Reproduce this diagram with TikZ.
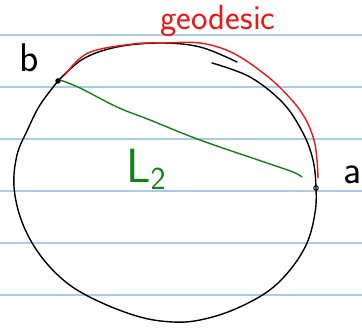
\documentclass[tikz,border=0pt]{standalone}
\usetikzlibrary{calc}
\definecolor{ruled}{RGB}{170,204,228}
\definecolor{geored}{RGB}{240,20,20}
\definecolor{chordgreen}{RGB}{20,130,20}
\tikzset{
  ruleline/.style={draw=ruled, line width=1.4pt},
  ink/.style={draw=black, line width=1.4pt, line cap=round, line join=round},
  redink/.style={draw=geored, line width=1.4pt, line cap=round, line join=round},
  greenink/.style={draw=chordgreen, line width=1.4pt, line cap=round, line join=round},
  lbl/.style={inner sep=0pt, anchor=base, font=\sffamily\fontsize{40}{44}\selectfont},
  dotnode/.style={circle, fill=black, inner sep=0pt, minimum size=5.5pt},
  ringnode/.style={circle, draw=black, line width=1pt, inner sep=0pt, minimum size=4.5pt},
}
\begin{document}
\begin{tikzpicture}[x=1pt, y=-1pt]
\useasboundingbox (0,0) rectangle (362,328);
\fill[white] (0,0) rectangle (362,328);
% ruled paper lines
\foreach \yy/\nm in {35/r1,87/r2,139/r3,191/r4,243/r5,295/r6} {
  \coordinate (\nm L) at (0,\yy);
  \coordinate (\nm R) at (362,\yy);
  \draw[ruleline] (\nm L) -- (\nm R);
}
% points
\coordinate (bpt) at (58,81);
\coordinate (apt) at (316,188);
% circle, first stroke (top arc)
\draw[ink] plot[smooth, tension=0.6] coordinates {(58,81) (83,59) (117,47) (160,43) (200,47) (237,62)};
% circle, main stroke
\draw[ink] plot[smooth, tension=0.6] coordinates {(212,63) (250,77) (283,103) (303,133) (313,160) (316,188) (315,213) (307,243) (290,270) (267,292) (233,310) (200,320) (173,322) (140,317) (100,302) (67,283) (40,255) (22,222) (14,187) (17,155) (27,131) (40,105) (58,81)};
% geodesic (red)
\draw[redink] plot[smooth, tension=0.6] coordinates {(65,75) (88,53) (133,44) (165,43) (200,43) (233,53) (267,76) (290,98) (305,118) (314,140) (317,160) (318,178)};
% chord (green)
\draw[greenink] plot[smooth, tension=0.6] coordinates {(60,80) (80,88) (117,107) (150,120) (200,140) (267,163) (293,172) (302,177)};
% point markers
\node[dotnode] (b) at (bpt) {};
\node[ringnode] (a) at (apt) {};
% labels
\node[inner sep=0pt, anchor=base, text=geored, font=\sffamily\fontsize{35}{38}\selectfont] (geo) at (218,30) {geodesic};
\node[lbl] (blabel) at (29,72) {b};
\node[lbl] (alabel) at (353,184) {a};
\node[inner sep=0pt, anchor=base west, text=chordgreen, font=\sffamily\fontsize{48}{50}\selectfont] (L2) at (126,183) {L\raisebox{-0.3ex}{\fontsize{32}{34}\selectfont 2}};
\end{tikzpicture}
\end{document}
